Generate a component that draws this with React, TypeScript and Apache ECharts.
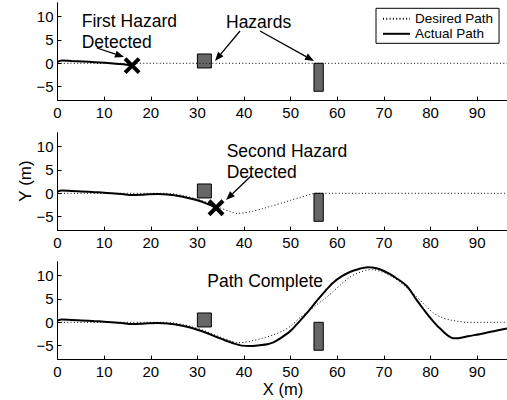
import React, { useEffect, useRef } from 'react';
import * as echarts from 'echarts';

// ---- data ----
const xTicks = [0, 10, 20, 30, 40, 50, 60, 70, 80, 90];
const yTicks = [-5, 0, 5, 10];

// Plot 1
const desired1X = [0, 96.4];
const desired1Y = [0, 0];
const actual1X = [0, 0.9, 3, 5.5, 8, 10.2, 12.5, 14.8, 16];
const actual1Y = [0.3, 0.6, 0.5, 0.4, 0.25, 0.1, -0.1, -0.3, -0.5];

// Plot 2
const desired2X = [0, 23, 25, 27, 29, 31, 33, 35, 37, 38.5, 40, 42, 44, 46, 48.4, 50, 52, 54, 55.5, 96.4];
const desired2Y = [0, 0, -0.15, -0.5, -1.0, -1.6, -2.4, -3.2, -3.9, -4.3, -4.2, -3.8, -3.3, -2.7, -2.0, -1.5, -0.9, -0.3, 0, 0];
const actual2X = [0, 0.9, 3, 6.6, 10, 13.8, 15.9, 18, 19.5, 21.5, 24.5, 26, 28, 30, 32, 34];
const actual2Y = [0.35, 0.6, 0.5, 0.35, 0.1, -0.15, -0.36, -0.3, -0.2, -0.15, -0.36, -0.6, -1.0, -1.5, -2.2, -3.1];

// Plot 3
const desired3X = [0, 23, 25, 27, 29, 31, 33, 35, 37, 38.5, 40, 42, 44, 46, 48.4, 50, 52, 54, 55.6, 57.5, 59.1, 61, 62.7, 64.5, 66.3, 67.5, 69.9, 71.5, 73.4, 75, 77, 79, 80.6, 82.5, 84.2, 86, 87.7, 96.4];
const desired3Y = [0, 0, -0.15, -0.5, -1.0, -1.6, -2.4, -3.2, -3.9, -4.4, -4.3, -3.9, -3.4, -2.8, -1.8, -0.8, 1.0, 2.5, 3.8, 5.2, 6.6, 8.3, 9.7, 10.6, 11.2, 11.3, 10.7, 9.9, 8.7, 7.3, 5.5, 3.5, 2.0, 1.0, 0.5, 0.2, 0, 0];
const actual3X = [0, 0.9, 3, 6.6, 10, 13.8, 15.9, 18, 19.5, 21.5, 24.5, 26, 28, 30, 32, 34, 36, 37.7, 39.5, 41.3, 43.4, 45, 46.3, 47.5, 49.8, 52, 53.5, 55.6, 57.5, 59.1, 61, 62.7, 64.5, 66.5, 68.4, 70, 72, 74.9, 77, 78.5, 80, 82, 84.9, 86, 88, 91.3, 94, 96.4];
const actual3Y = [0.35, 0.6, 0.5, 0.35, 0.1, -0.15, -0.36, -0.3, -0.2, -0.15, -0.36, -0.6, -1.0, -1.6, -2.3, -3.1, -3.9, -4.5, -5.0, -5.1, -4.9, -4.7, -4.3, -3.6, -2.0, 0.3, 2.0, 4.6, 6.8, 8.5, 9.9, 10.8, 11.4, 11.8, 11.6, 11.0, 9.9, 7.8, 4.8, 2.8, 0.9, -1.3, -3.4, -3.4, -3.0, -2.4, -1.8, -1.3];

// Hazards: [x0, y0, x1, y1]
const hazards = [
  [30, -1, 33, 2],
  [55, -6, 57, 0],
];
const detection1 = [[16, -0.5]];
const detection2 = [[34, -3.1]];

const seriesNames = ['Desired Path', 'Actual Path'];

// ---- layout / style ----
const FONT = '"Liberation Sans", Arial, Helvetica, sans-serif';
const GRID_TOPS = [2.7, 132.7, 261.7];
const GRID_H = 97.9;
const GRID_LEFT = 57.5;
const GRID_W = 449.5;

const zip = (xs: number[], ys: number[]) => xs.map((x, i) => [x, ys[i]]);

function arrow(x1: number, y1: number, x2: number, y2: number) {
  const dx = x2 - x1, dy = y2 - y1;
  const len = Math.hypot(dx, dy);
  const ux = dx / len, uy = dy / len;
  const hl = 9, hw = 3.5;
  const bx = x2 - ux * hl, by = y2 - uy * hl;
  return [
    { type: 'line', shape: { x1, y1, x2: bx, y2: by }, style: { stroke: '#000', lineWidth: 1.3 } },
    {
      type: 'polygon',
      shape: { points: [[x2, y2], [bx - uy * hw, by + ux * hw], [bx + uy * hw, by - ux * hw]] },
      style: { fill: '#000' },
    },
  ];
}

function label(text: string, x: number, baseline: number, fs = 17.5) {
  return {
    type: 'text',
    x,
    y: baseline - 0.35 * fs,
    style: { text, font: `${fs}px ${FONT}`, fill: '#000', textAlign: 'left', textVerticalAlign: 'middle' },
  };
}

const hazardRender = (params: any, api: any) => {
  const a = api.coord([api.value(0), api.value(3)]);
  const b = api.coord([api.value(2), api.value(1)]);
  return {
    type: 'rect',
    shape: { x: a[0], y: a[1], width: b[0] - a[0], height: b[1] - a[1] },
    style: { fill: '#666666', stroke: '#000', lineWidth: 1 },
  };
};

const crossRender = (params: any, api: any) => {
  const p = api.coord([api.value(0), api.value(1)]);
  const s = 7;
  return {
    type: 'group',
    children: [
      { type: 'line', shape: { x1: p[0] - s, y1: p[1] - s, x2: p[0] + s, y2: p[1] + s }, style: { stroke: '#000', lineWidth: 4 } },
      { type: 'line', shape: { x1: p[0] - s, y1: p[1] + s, x2: p[0] + s, y2: p[1] - s }, style: { stroke: '#000', lineWidth: 4 } },
    ],
  };
};

function buildOption() {
  const grids = GRID_TOPS.map((top) => ({ left: GRID_LEFT, top, width: GRID_W, height: GRID_H }));
  const xAxes = GRID_TOPS.map((_, i) => ({
    type: 'value',
    gridIndex: i,
    min: 0,
    max: 96.4,
    axisLine: { show: true, onZero: false, lineStyle: { color: '#000', width: 1 } },
    axisTick: { show: true, inside: true, length: 4, customValues: xTicks, lineStyle: { color: '#000' } },
    axisLabel: { customValues: xTicks, fontSize: 15, fontFamily: FONT, color: '#000', margin: 4 },
    splitLine: { show: false },
  }));
  const yAxes = GRID_TOPS.map((_, i) => ({
    type: 'value',
    gridIndex: i,
    min: -8,
    max: 13,
    axisLine: { show: true, onZero: false, lineStyle: { color: '#000', width: 1 } },
    axisTick: { show: true, inside: true, length: 4, customValues: yTicks, lineStyle: { color: '#000' } },
    axisLabel: {
      customValues: yTicks,
      fontSize: 15,
      fontFamily: FONT,
      color: '#000',
      margin: 4,
      formatter: (v: number) => String(v).replace('-', '\u2212'),
    },
    splitLine: { show: false },
  }));

  const desired = [zip(desired1X, desired1Y), zip(desired2X, desired2Y), zip(desired3X, desired3Y)];
  const actual = [zip(actual1X, actual1Y), zip(actual2X, actual2Y), zip(actual3X, actual3Y)];
  const detections = [detection1, detection2, []];

  const series: any[] = [];
  GRID_TOPS.forEach((_, i) => {
    series.push({
      type: 'line',
      name: seriesNames[0],
      xAxisIndex: i,
      yAxisIndex: i,
      data: desired[i],
      showSymbol: false,
      symbol: 'none',
      smooth: 0.3,
      lineStyle: { color: '#000', width: 1, type: [1, 2.3] },
      itemStyle: { color: '#000' },
    });
    series.push({
      type: 'line',
      name: seriesNames[1],
      xAxisIndex: i,
      yAxisIndex: i,
      data: actual[i],
      showSymbol: false,
      symbol: 'none',
      smooth: 0.3,
      lineStyle: { color: '#000', width: 2 },
      itemStyle: { color: '#000' },
    });
    series.push({
      type: 'custom',
      xAxisIndex: i,
      yAxisIndex: i,
      data: hazards,
      renderItem: hazardRender,
      encode: { x: [0, 2], y: [1, 3] },
      z: 3,
    });
    if (detections[i].length) {
      series.push({
        type: 'custom',
        xAxisIndex: i,
        yAxisIndex: i,
        data: detections[i],
        renderItem: crossRender,
        z: 4,
      });
    }
  });

  const graphics: any[] = [
    label('First Hazard', 81.7, 27.3),
    label('Detected', 81.7, 48.3),
    label('Hazards', 226, 28.3),
    label('Second Hazard', 226.7, 157.3),
    label('Detected', 226.7, 178.3),
    label('Path Complete', 207.3, 286.7),
    ...arrow(97, 48, 124, 57),
    ...arrow(240, 31, 215, 61),
    ...arrow(260, 31, 314, 61),
    ...arrow(252, 175, 226, 200),
    {
      type: 'text',
      x: 25,
      y: 181,
      rotation: Math.PI / 2,
      style: { text: 'Y (m)', font: `17px ${FONT}`, fill: '#000', textAlign: 'center', textVerticalAlign: 'middle' },
    },
    {
      type: 'text',
      x: 283,
      y: 389,
      style: { text: 'X (m)', font: `16.5px ${FONT}`, fill: '#000', textAlign: 'center', textVerticalAlign: 'middle' },
    },
  ];

  return {
    animation: false,
    backgroundColor: '#fff',
    grid: grids,
    xAxis: xAxes,
    yAxis: yAxes,
    legend: {
      data: seriesNames,
      orient: 'vertical',
      left: 376,
      top: 8.3,
      itemWidth: 27,
      itemHeight: 14,
      itemGap: 1,
      padding: [3.5, 6, 2.5, 6],
      borderColor: '#000',
      borderWidth: 1,
      backgroundColor: '#fff',
      itemStyle: { opacity: 0 },
      textStyle: { fontSize: 13.5, fontFamily: FONT, color: '#000' },
      selectedMode: false,
    },
    series,
    graphic: graphics,
  };
}

export default function App() {
  const ref = useRef<HTMLDivElement>(null);
  useEffect(() => {
    if (!ref.current) return;
    const chart = echarts.init(ref.current, null, { renderer: 'svg' });
    chart.setOption(buildOption() as any);
    return () => chart.dispose();
  }, []);
  return (
    <div
      ref={ref}
      style={{ position: 'fixed', left: 0, top: 0, width: 507, height: 400, background: '#fff' }}
    />
  );
}
